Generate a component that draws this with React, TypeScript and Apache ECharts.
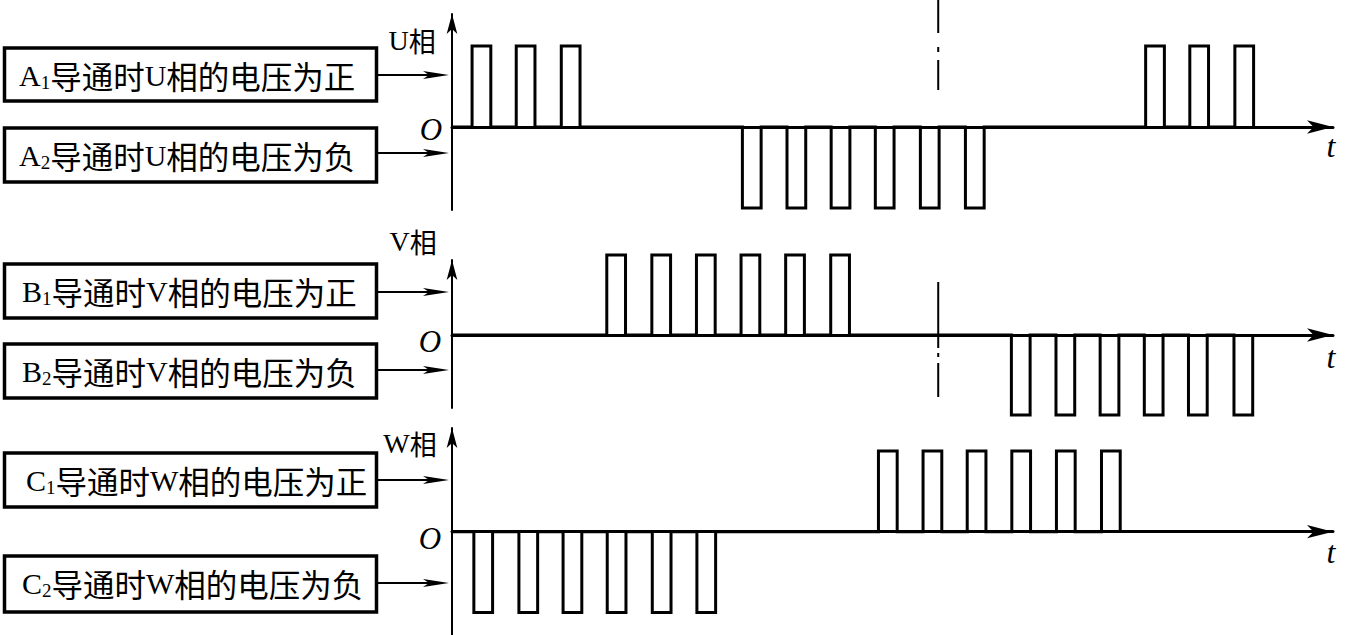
import React, { useEffect, useRef } from "react";
import * as echarts from "echarts";

// ---- data (time in pulse-period units) ----
const PULSE_W = 0.42;
const U_POS = [0.45, 1.44, 2.45, 15.55, 16.54, 17.55];
const U_NEG = [6.51, 7.51, 8.5, 9.49, 10.5, 11.51];
const V_POS = [3.47, 4.48, 5.48, 6.48, 7.48, 8.49];
const V_NEG = [12.54, 13.54, 14.53, 15.52, 16.51, 17.53];
const W_POS = [9.56, 10.56, 11.55, 12.55, 13.55, 14.56];
const W_NEG = [0.49, 1.5, 2.49, 3.48, 4.49, 5.49];
const DASH_T = 10.9;
const X_MAX = 19.75;

const PHASES = ["U", "V", "W"];
const BOX_TEXT_POS = "导通时";
const BOX_TAIL_POS = "相的电压为正";
const BOX_TAIL_NEG = "相的电压为负";

function wave(pos: number[], neg: number[]) {
  const pulses = [
    ...pos.map((s) => [s, 1]),
    ...neg.map((s) => [s, -1]),
  ].sort((a, b) => a[0] - b[0]);
  const pts: number[][] = [[0, 0]];
  for (const [s, h] of pulses) {
    pts.push([s, 0], [s, h], [s + PULSE_W, h], [s + PULSE_W, 0]);
  }
  return pts;
}

const SERIF = "'Liberation Serif', 'DejaVu Serif', serif";
const CJK = "'Noto Sans CJK SC', sans-serif";

function boxText(x: number, y: number, letter: string, sub: string, phase: string, tail: string) {
  return {
    type: "text",
    x,
    y,
    style: {
      text: `{a|${letter}}{s|${sub}}{c|${BOX_TEXT_POS}}{a|${phase}}{c|${tail}}`,
      align: "left",
      verticalAlign: "middle",
      fill: "#000",
      rich: {
        a: { fontFamily: SERIF, fontSize: 30, lineHeight: 34, fill: "#000" },
        s: { fontFamily: SERIF, fontSize: 19, lineHeight: 14, verticalAlign: "bottom", fill: "#000" },
        c: { fontFamily: CJK, fontSize: 31.5, lineHeight: 34, fill: "#000" },
      },
    },
  };
}

function box(y: number, h: number) {
  return {
    type: "rect",
    shape: { x: 4.5, y, width: 372, height: h },
    style: { fill: "none", stroke: "#000", lineWidth: 3.5 },
  };
}

function arrow(y: number) {
  return [
    { type: "line", shape: { x1: 378, y1: y, x2: 440, y2: y }, style: { stroke: "#000", lineWidth: 2 } },
    {
      type: "polygon",
      shape: { points: [[449, y], [423, y - 4], [429, y], [423, y + 4]] },
      style: { fill: "#000" },
    },
  ];
}

function label(x: number, y: number, text: string, size: number, italic = false, family = SERIF) {
  return {
    type: "text",
    x,
    y,
    style: {
      text,
      align: "center",
      verticalAlign: "middle",
      fontFamily: family,
      fontSize: size,
      fontStyle: italic ? "italic" : "normal",
      fill: "#000",
    },
  };
}

function phaseLabel(x: number, y: number, p: string) {
  return {
    type: "text",
    x,
    y,
    style: {
      text: `{a|${p}}{c|相}`,
      align: "center",
      verticalAlign: "middle",
      rich: {
        a: { fontFamily: SERIF, fontSize: 28, fill: "#000" },
        c: { fontFamily: CJK, fontSize: 27, fill: "#000" },
      },
    },
  };
}

export default function App() {
  const ref = useRef<HTMLDivElement>(null);
  useEffect(() => {
    if (!ref.current) return;
    const chart = echarts.init(ref.current, null, { renderer: "svg" });
    const grids = [
      { top: 14, height: 196, min: -1.025, max: 1.395 },
      { top: 260, height: 148, min: -0.9125, max: 0.9375 },
      { top: 428, height: 207, min: -1.28, max: 1.285 },
    ];
    const waves = [wave(U_POS, U_NEG), wave(V_POS, V_NEG), wave(W_POS, W_NEG)];
    const series: any[] = waves.map((d, i) => ({
      type: "line",
      xAxisIndex: i,
      yAxisIndex: i,
      data: d,
      showSymbol: false,
      symbol: "none",
      clip: false,
      silent: true,
      lineStyle: { color: "#000", width: 3, join: "miter" },
    }));
    series.push({
      type: "line",
      xAxisIndex: 0,
      yAxisIndex: 0,
      data: [[DASH_T, 1.568], [DASH_T, 0.457]],
      symbol: "none",
      clip: false,
      silent: true,
      lineStyle: { color: "#000", width: 2, type: [33, 14, 5, 8, 40] },
    });
    series.push({
      type: "line",
      xAxisIndex: 1,
      yAxisIndex: 1,
      data: [[DASH_T, 0.6625], [DASH_T, -0.775]],
      symbol: "none",
      clip: false,
      silent: true,
      lineStyle: { color: "#000", width: 2, type: [66, 5, 4, 6, 40] },
    });

    const graphic: any[] = [
      box(48, 53),
      box(128, 54),
      box(264, 54),
      box(344, 54),
      box(453, 54),
      box(556, 56),
      boxText(19, 75, "A", "1", "U", BOX_TAIL_POS),
      boxText(19, 155, "A", "2", "U", BOX_TAIL_NEG),
      boxText(22, 291, "B", "1", "V", BOX_TAIL_POS),
      boxText(22, 371, "B", "2", "V", BOX_TAIL_NEG),
      boxText(26, 480, "C", "1", "W", BOX_TAIL_POS),
      boxText(22, 583, "C", "2", "W", BOX_TAIL_NEG),
      ...arrow(75),
      ...arrow(153),
      ...arrow(292),
      ...arrow(370),
      ...arrow(480),
      ...arrow(583),
      phaseLabel(412, 40, PHASES[0]),
      phaseLabel(413, 241, PHASES[1]),
      phaseLabel(410, 443, PHASES[2]),
      label(431, 129, "O", 31, true),
      label(430, 341, "O", 31, true),
      label(430, 538, "O", 31, true),
      label(1331, 146, "t", 32, true),
      label(1331, 357, "t", 32, true),
      label(1331, 552, "t", 32, true),
    ];

    chart.setOption({
      animation: false,
      backgroundColor: "#fff",
      grid: grids.map((g) => ({ left: 452, right: 13, top: g.top, height: g.height })),
      xAxis: grids.map((_, i) => ({
        type: "value",
        gridIndex: i,
        min: 0,
        max: X_MAX,
        axisLine: {
          show: true,
          onZero: true,
          symbol: ["none", "arrow"],
          symbolSize: [10, 26],
          lineStyle: { color: "#000", width: 3 },
        },
        axisTick: { show: false },
        axisLabel: { show: false },
        splitLine: { show: false },
      })),
      yAxis: grids.map((g, i) => ({
        type: "value",
        gridIndex: i,
        min: g.min,
        max: g.max,
        axisLine: {
          show: true,
          onZero: true,
          symbol: ["none", "arrow"],
          symbolSize: [8, 20],
          lineStyle: { color: "#000", width: 2 },
        },
        axisTick: { show: false },
        axisLabel: { show: false },
        splitLine: { show: false },
      })),
      series,
      graphic,
    });
    return () => chart.dispose();
  }, []);
  return (
    <div
      ref={ref}
      style={{ position: "fixed", left: 0, top: 0, width: 1346, height: 635, background: "#fff" }}
    />
  );
}
